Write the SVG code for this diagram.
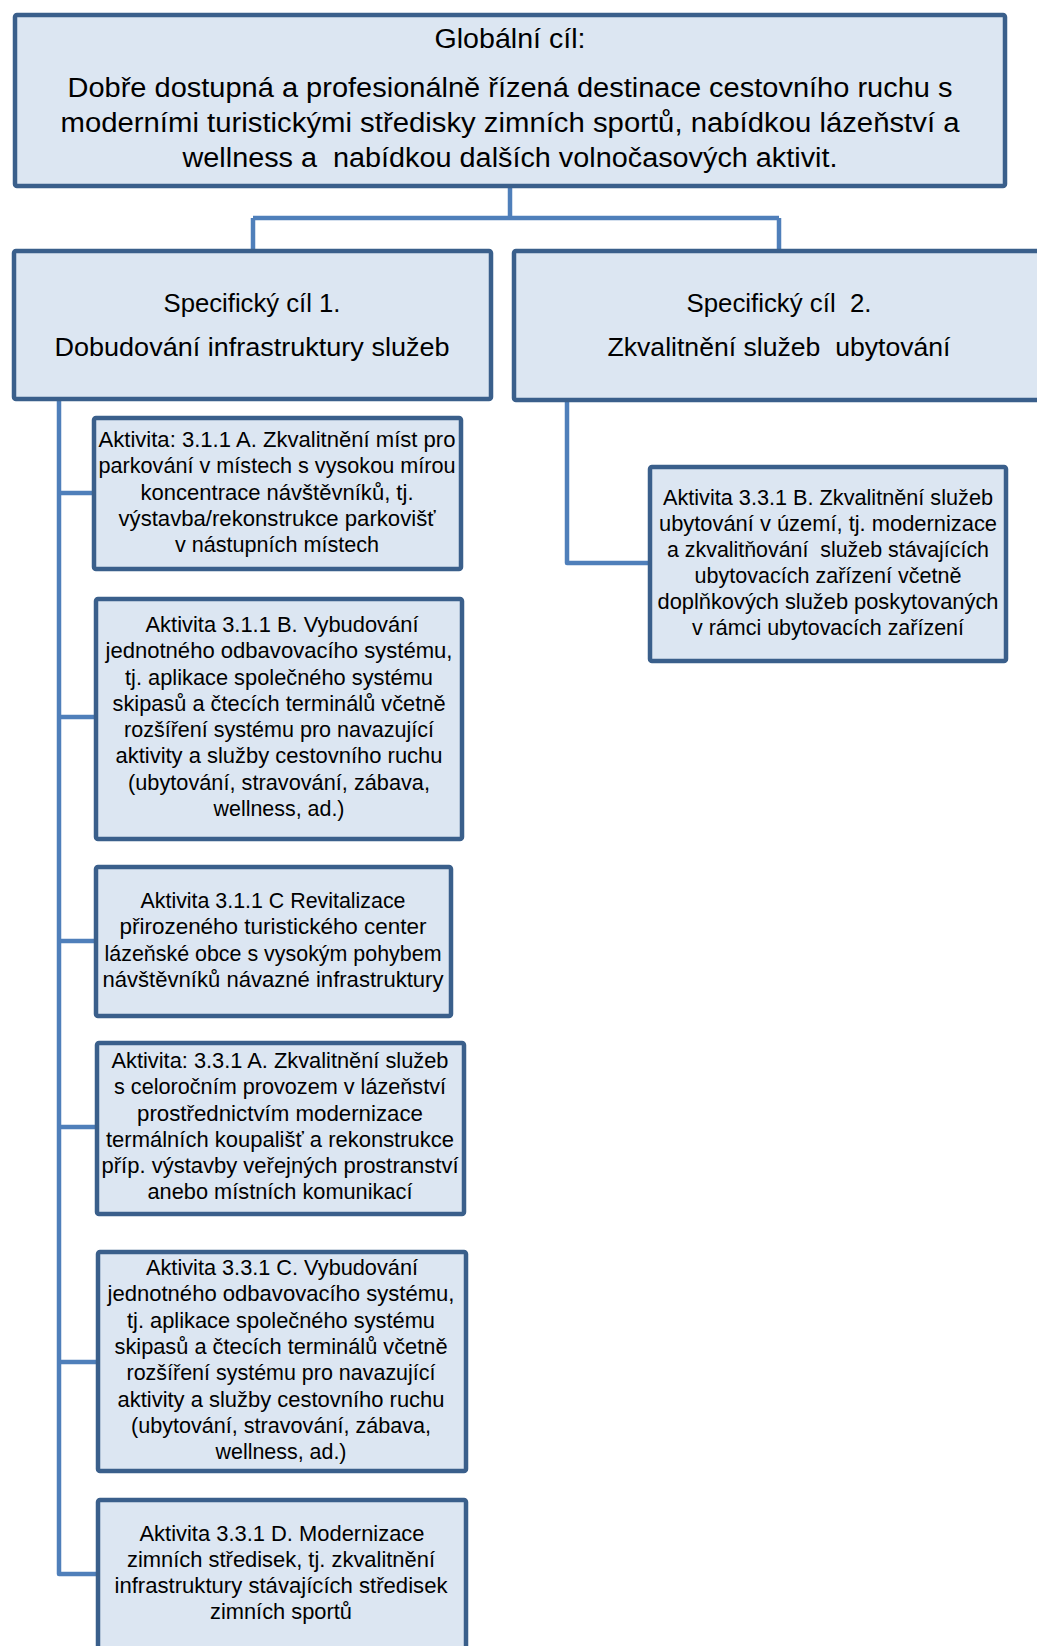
<svg xmlns="http://www.w3.org/2000/svg" width="1037" height="1646" viewBox="0 0 1037 1646">
<style>
.box{fill:#dce6f2;stroke:#3a5f8b;stroke-width:4.5;stroke-linejoin:round}
.con{fill:none;stroke:#4f7fba;stroke-width:4.5;stroke-linejoin:round}
text{font-family:"Liberation Sans",Arial,sans-serif;fill:#000;text-anchor:middle;white-space:pre}
.big{font-size:27px}
.mid{font-size:26px}
.sm{font-size:22px}
</style>
<rect width="1037" height="1646" fill="#fff"/>
<g id="connectors">
<path class="con" d="M510 186 V218 M253 218 H779 M253 218 V251 M779 218 V251"/>
<path class="con" d="M59 398 V1574 H98 M59 493 H94 M59 717 H96 M59 941 H96 M59 1127 H97 M59 1362 H98"/>
<path class="con" d="M567 400 V563 H650"/>
</g>
<g id="global">
<rect class="box" x="15" y="15" width="990" height="171" rx="2"/>
<text class="big" x="510" y="48" textLength="151" lengthAdjust="spacingAndGlyphs">Globální cíl:</text>
<text class="big" x="510" y="97" textLength="885" lengthAdjust="spacingAndGlyphs">Dobře dostupná a profesionálně řízená destinace cestovního ruchu s</text>
<text class="big" x="510" y="132" textLength="899" lengthAdjust="spacingAndGlyphs">moderními turistickými středisky zimních sportů, nabídkou lázeňství a</text>
<text class="big" x="510" y="167" textLength="655" lengthAdjust="spacingAndGlyphs">wellness a  nabídkou dalších volnočasových aktivit.</text>
</g>
<g id="spec1">
<rect class="box" x="14" y="251" width="477" height="148" rx="2"/>
<text class="mid" x="252" y="312" textLength="177" lengthAdjust="spacingAndGlyphs">Specifický cíl 1.</text>
<text class="mid" x="252" y="356" textLength="395" lengthAdjust="spacingAndGlyphs">Dobudování infrastruktury služeb</text>
</g>
<g id="spec2">
<rect class="box" x="514" y="251" width="540" height="149" rx="2"/>
<text class="mid" x="779" y="312" textLength="185" lengthAdjust="spacingAndGlyphs">Specifický cíl  2.</text>
<text class="mid" x="779" y="356" textLength="343" lengthAdjust="spacingAndGlyphs">Zkvalitnění služeb  ubytování</text>
</g>
<g id="act311A">
<rect class="box" x="94" y="418" width="367" height="151" rx="2"/>
<text class="sm" x="277" y="447" textLength="357" lengthAdjust="spacingAndGlyphs">Aktivita: 3.1.1 A. Zkvalitnění míst pro</text>
<text class="sm" x="277" y="473" textLength="357" lengthAdjust="spacingAndGlyphs">parkování v místech s vysokou mírou</text>
<text class="sm" x="277" y="500" textLength="273" lengthAdjust="spacingAndGlyphs">koncentrace návštěvníků, tj.</text>
<text class="sm" x="277" y="526" textLength="317" lengthAdjust="spacingAndGlyphs">výstavba/rekonstrukce parkovišť</text>
<text class="sm" x="277" y="552" textLength="204" lengthAdjust="spacingAndGlyphs">v nástupních místech</text>
</g>
<g id="act311B">
<rect class="box" x="96" y="599" width="366" height="240" rx="2"/>
<text class="sm" x="282" y="632" textLength="273" lengthAdjust="spacingAndGlyphs">Aktivita 3.1.1 B. Vybudování</text>
<text class="sm" x="279" y="658" textLength="347" lengthAdjust="spacingAndGlyphs">jednotného odbavovacího systému,</text>
<text class="sm" x="279" y="685" textLength="308" lengthAdjust="spacingAndGlyphs">tj. aplikace společného systému</text>
<text class="sm" x="279" y="711" textLength="333" lengthAdjust="spacingAndGlyphs">skipasů a čtecích terminálů včetně</text>
<text class="sm" x="279" y="737" textLength="310" lengthAdjust="spacingAndGlyphs">rozšíření systému pro navazující</text>
<text class="sm" x="279" y="763" textLength="327" lengthAdjust="spacingAndGlyphs">aktivity a služby cestovního ruchu</text>
<text class="sm" x="279" y="790" textLength="302" lengthAdjust="spacingAndGlyphs">(ubytování, stravování, zábava,</text>
<text class="sm" x="279" y="816" textLength="131" lengthAdjust="spacingAndGlyphs">wellness, ad.)</text>
</g>
<g id="act311C">
<rect class="box" x="96" y="867" width="355" height="149" rx="2"/>
<text class="sm" x="273" y="908" textLength="265" lengthAdjust="spacingAndGlyphs">Aktivita 3.1.1 C Revitalizace</text>
<text class="sm" x="273" y="934" textLength="307" lengthAdjust="spacingAndGlyphs">přirozeného turistického center</text>
<text class="sm" x="273" y="961" textLength="337" lengthAdjust="spacingAndGlyphs">lázeňské obce s vysokým pohybem</text>
<text class="sm" x="273" y="987" textLength="341" lengthAdjust="spacingAndGlyphs">návštěvníků návazné infrastruktury</text>
</g>
<g id="act331A">
<rect class="box" x="97" y="1043" width="367" height="171" rx="2"/>
<text class="sm" x="280" y="1068" textLength="337" lengthAdjust="spacingAndGlyphs">Aktivita: 3.3.1 A. Zkvalitnění služeb</text>
<text class="sm" x="280" y="1094" textLength="332" lengthAdjust="spacingAndGlyphs">s celoročním provozem v lázeňství</text>
<text class="sm" x="280" y="1121" textLength="286" lengthAdjust="spacingAndGlyphs">prostřednictvím modernizace</text>
<text class="sm" x="280" y="1147" textLength="348" lengthAdjust="spacingAndGlyphs">termálních koupališť a rekonstrukce</text>
<text class="sm" x="280" y="1173" textLength="357" lengthAdjust="spacingAndGlyphs">příp. výstavby veřejných prostranství</text>
<text class="sm" x="280" y="1199" textLength="265" lengthAdjust="spacingAndGlyphs">anebo místních komunikací</text>
</g>
<g id="act331C">
<rect class="box" x="98" y="1252" width="368" height="219" rx="2"/>
<text class="sm" x="282" y="1275" textLength="272" lengthAdjust="spacingAndGlyphs">Aktivita 3.3.1 C. Vybudování</text>
<text class="sm" x="281" y="1301" textLength="347" lengthAdjust="spacingAndGlyphs">jednotného odbavovacího systému,</text>
<text class="sm" x="281" y="1328" textLength="308" lengthAdjust="spacingAndGlyphs">tj. aplikace společného systému</text>
<text class="sm" x="281" y="1354" textLength="333" lengthAdjust="spacingAndGlyphs">skipasů a čtecích terminálů včetně</text>
<text class="sm" x="281" y="1380" textLength="309" lengthAdjust="spacingAndGlyphs">rozšíření systému pro navazující</text>
<text class="sm" x="281" y="1407" textLength="327" lengthAdjust="spacingAndGlyphs">aktivity a služby cestovního ruchu</text>
<text class="sm" x="281" y="1433" textLength="300" lengthAdjust="spacingAndGlyphs">(ubytování, stravování, zábava,</text>
<text class="sm" x="281" y="1459" textLength="131" lengthAdjust="spacingAndGlyphs">wellness, ad.)</text>
</g>
<g id="act331D">
<rect class="box" x="98" y="1500" width="368" height="160" rx="2"/>
<text class="sm" x="282" y="1541" textLength="285" lengthAdjust="spacingAndGlyphs">Aktivita 3.3.1 D. Modernizace</text>
<text class="sm" x="281" y="1567" textLength="308" lengthAdjust="spacingAndGlyphs">zimních středisek, tj. zkvalitnění</text>
<text class="sm" x="281" y="1593" textLength="333" lengthAdjust="spacingAndGlyphs">infrastruktury stávajících středisek</text>
<text class="sm" x="281" y="1619" textLength="142" lengthAdjust="spacingAndGlyphs">zimních sportů</text>
</g>
<g id="act331B">
<rect class="box" x="650" y="467" width="356" height="194" rx="2"/>
<text class="sm" x="828" y="505" textLength="330" lengthAdjust="spacingAndGlyphs">Aktivita 3.3.1 B. Zkvalitnění služeb</text>
<text class="sm" x="828" y="531" textLength="338" lengthAdjust="spacingAndGlyphs">ubytování v území, tj. modernizace</text>
<text class="sm" x="828" y="557" textLength="322" lengthAdjust="spacingAndGlyphs">a zkvalitňování  služeb stávajících</text>
<text class="sm" x="828" y="583" textLength="267" lengthAdjust="spacingAndGlyphs">ubytovacích zařízení včetně</text>
<text class="sm" x="828" y="609" textLength="341" lengthAdjust="spacingAndGlyphs">doplňkových služeb poskytovaných</text>
<text class="sm" x="828" y="635" textLength="272" lengthAdjust="spacingAndGlyphs">v rámci ubytovacích zařízení</text>
</g>
</svg>
